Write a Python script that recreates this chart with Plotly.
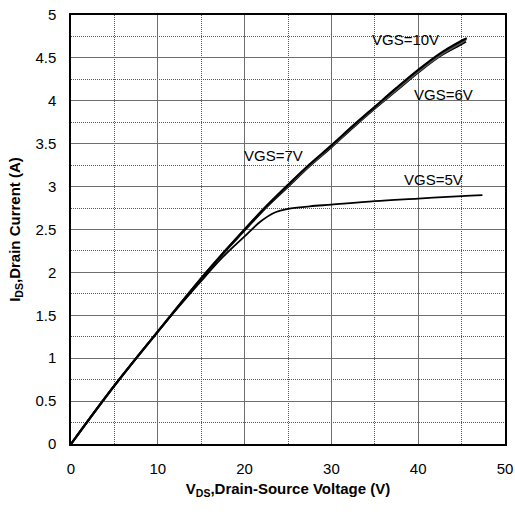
import plotly.graph_objects as go

# VGS = 10 V
vds_10 = [0, 5, 10, 15, 17.5, 20, 22.5, 25, 27.5, 30, 32.5, 35, 37.5, 40, 42.5, 45, 45.6]
ids_10 = [0, 0.68, 1.31, 1.93, 2.22, 2.5, 2.77, 3.02, 3.26, 3.48, 3.71, 3.93, 4.15, 4.36, 4.55, 4.7, 4.73]
# VGS = 7 V
vds_7 = [0, 5, 10, 15, 17.5, 20, 22.5, 25, 27.5, 30, 32.5, 35, 37.5, 40, 42.5, 45, 45.5]
ids_7 = [0, 0.68, 1.31, 1.93, 2.22, 2.5, 2.77, 3.01, 3.25, 3.47, 3.7, 3.92, 4.13, 4.34, 4.53, 4.68, 4.71]
# VGS = 6 V
vds_6 = [0, 5, 10, 15, 17.5, 20, 22.5, 25, 27.5, 30, 32.5, 35, 37.5, 40, 42.5, 45, 45.5]
ids_6 = [0, 0.68, 1.31, 1.93, 2.22, 2.49, 2.76, 3.0, 3.24, 3.46, 3.69, 3.91, 4.12, 4.33, 4.52, 4.66, 4.69]
# VGS = 5 V
vds_5 = [0, 5, 10, 15, 17.5, 20, 21.8, 23.3, 25, 27.5, 30, 35, 40, 45, 47.4]
ids_5 = [0, 0.68, 1.31, 1.9, 2.18, 2.42, 2.59, 2.69, 2.74, 2.77, 2.79, 2.83, 2.86, 2.89, 2.9]

labels = ["VGS=10V", "VGS=6V", "VGS=7V", "VGS=5V"]
label_x = [38.5, 42.9, 23.3, 41.8]
label_y = [4.71, 4.07, 3.36, 3.08]

FONT = "Liberation Sans, Arial, sans-serif"

fig = go.Figure()
fig.add_trace(go.Scatter(x=vds_6, y=ids_6, mode="lines", line=dict(color="#000000", width=2.2, shape="spline")))
fig.add_trace(go.Scatter(x=vds_7, y=ids_7, mode="lines", line=dict(color="#555555", width=2.2, shape="spline")))
fig.add_trace(go.Scatter(x=vds_10, y=ids_10, mode="lines", line=dict(color="#000000", width=2.2, shape="spline")))
fig.add_trace(go.Scatter(x=vds_5, y=ids_5, mode="lines", line=dict(color="#000000", width=1.8, shape="spline")))

for t, x, y in zip(labels, label_x, label_y):
    fig.add_annotation(x=x, y=y, text=t, showarrow=False,
                       font=dict(family=FONT, size=15, color="#000000"))

fig.update_layout(
    width=515, height=512,
    margin=dict(l=71, r=10, t=15, b=68, autoexpand=False),
    paper_bgcolor="white", plot_bgcolor="white",
    showlegend=False,
    font=dict(family=FONT, size=15, color="#000000"),
)
fig.update_xaxes(
    range=[0, 50], dtick=10, tick0=0, automargin=False,
    showgrid=True, gridcolor="#6e6e6e", gridwidth=1,
    minor=dict(dtick=5, showgrid=True, gridcolor="#555555", griddash="1px,1px", gridwidth=1),
    showline=True, linecolor="#000000", linewidth=1.5, mirror=True,
    zeroline=False, ticks="", ticklabelstandoff=10,
    tickfont=dict(family=FONT, size=15),
    title=dict(text="<b>V<sub>DS</sub>,Drain-Source Voltage (V)</b>", font=dict(family=FONT, size=15), standoff=8),
)
fig.update_yaxes(
    range=[0, 5], dtick=0.5, tick0=0, automargin=False,
    showgrid=True, gridcolor="#6e6e6e", gridwidth=1,
    minor=dict(dtick=0.25, showgrid=True, gridcolor="#555555", griddash="1px,1px", gridwidth=1),
    showline=True, linecolor="#000000", linewidth=1.5, mirror=True,
    zeroline=False, ticks="", ticklabelstandoff=10,
    tickfont=dict(family=FONT, size=15),
    title=dict(text="<b>I<sub>DS</sub>,Drain Current (A)</b>", font=dict(family=FONT, size=15), standoff=11),
)

fig.write_html("out.html", config={"displayModeBar": False},
               post_script="document.body.style.margin='0';document.body.style.padding='0';")
